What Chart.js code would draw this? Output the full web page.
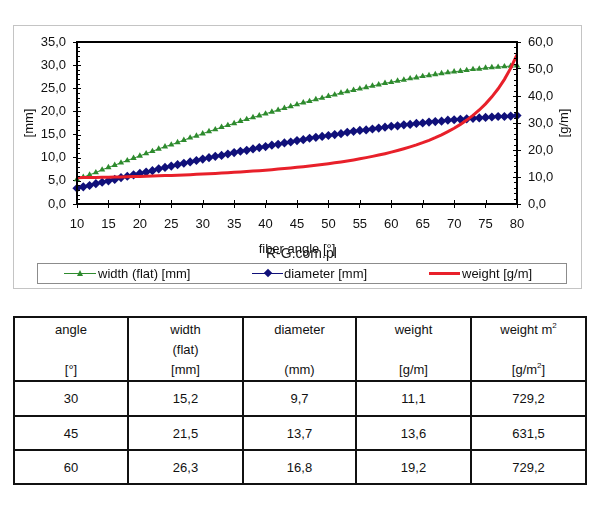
<!DOCTYPE html>
<html>
<head>
<meta charset="utf-8">
<script src="https://cdn.jsdelivr.net/npm/chart.js@4.4.1/dist/chart.umd.min.js"></script>
<style>
    body {
        margin: 0; width: 605px; height: 511px; background: #fff;
        position: relative; overflow: hidden;
        font-family: "Liberation Sans", Arial, sans-serif; color: #111;
    }
    #chartBox { position: absolute; left: 13px; top: 25px; width: 568px; height: 263px; }
    #chartBox canvas { position: absolute; left: 0; top: 0; }
    #frame {
        position: absolute; left: 13px; top: 25px; width: 569px; height: 264px;
        box-sizing: border-box; border: 1px solid #c4c4c4; pointer-events: none;
    }
    #legend {
        position: absolute; left: 37px; top: 263px; width: 530px; height: 21px;
        box-sizing: border-box; border: 1px solid #8c8c8c; font-size: 13px;
    }
    .item { position: absolute; top: 1px; line-height: 17px; white-space: nowrap; }
    .ln { position: absolute; }
    .tri {
        position: absolute; width: 0; height: 0;
        border-left: 3px solid transparent; border-right: 3px solid transparent;
        border-bottom: 6px solid #2e8b2e;
    }
    .dia { position: absolute; width: 6px; height: 6px; background: #10107a; transform: rotate(45deg); }
    #watermark { position: absolute; left: 266px; top: 245px; font-size: 14px; color: #1a1a1a; }
    table {
        position: absolute; left: 13px; top: 316px; width: 572px;
        border-collapse: collapse; table-layout: fixed; font-size: 13px;
    }
    td { border: 2px solid #111; text-align: center; padding: 0; }
    td.h { vertical-align: top; height: 62px; }
    td.h div { line-height: 20px; height: 20px; }
    td.h div:first-child { margin-top: 2px; }
    sup { font-size: 8px; line-height: 0; vertical-align: 6px; }
</style>
</head>
<body>
<div id="chartBox"><canvas id="fiberChart" width="568" height="263"></canvas></div>
<div id="frame"></div>
<div id="legend">
    <div class="ln" style="left:26px;top:9px;width:32px;height:1px;background:#2e8b2e"></div>
    <div class="tri" style="left:39px;top:6px"></div>
    <div class="item" style="left:60px">width (flat) [mm]</div>
    <div class="ln" style="left:214px;top:9px;width:31px;height:1px;background:#10107a"></div>
    <div class="dia" style="left:227px;top:6px"></div>
    <div class="item" style="left:246px">diameter [mm]</div>
    <div class="ln" style="left:391px;top:8px;width:31px;height:3px;background:#e8202a"></div>
    <div class="item" style="left:424px">weight [g/m]</div>
</div>
<div id="watermark">R-G.com.pl</div>
<table id="dataTable">
    <colgroup><col style="width:114px"><col style="width:115px"><col style="width:113px"><col style="width:115px"><col style="width:115px"></colgroup>
    <tr>
        <td class="h"><div>angle</div><div></div><div>[°]</div></td>
        <td class="h"><div>width</div><div>(flat)</div><div>[mm]</div></td>
        <td class="h"><div>diameter</div><div></div><div>(mm)</div></td>
        <td class="h"><div>weight</div><div></div><div>[g/m]</div></td>
        <td class="h"><div>weight m<sup>2</sup></div><div></div><div>[g/m<sup>2</sup>]</div></td>
    </tr>
</table>
<script>
// fiber angle [deg], one point per degree
const angles = [10, 11, 12, 13, 14, 15, 16, 17, 18, 19, 20, 21, 22, 23, 24, 25, 26, 27, 28, 29,
    30, 31, 32, 33, 34, 35, 36, 37, 38, 39, 40, 41, 42, 43, 44, 45, 46, 47, 48, 49,
    50, 51, 52, 53, 54, 55, 56, 57, 58, 59, 60, 61, 62, 63, 64, 65, 66, 67, 68, 69,
    70, 71, 72, 73, 74, 75, 76, 77, 78, 79, 80];

// width (flat) [mm]
const widthFlat = [5.3, 5.8, 6.3, 6.8, 7.4, 7.9, 8.4, 8.9, 9.4, 9.9, 10.4, 10.9, 11.4, 11.9, 12.4, 12.8, 13.3, 13.8, 14.3, 14.7,
    15.2, 15.7, 16.1, 16.6, 17.0, 17.4, 17.9, 18.3, 18.7, 19.1, 19.5, 19.9, 20.3, 20.7, 21.1, 21.5, 21.9, 22.2, 22.6, 22.9,
    23.3, 23.6, 24.0, 24.3, 24.6, 24.9, 25.2, 25.5, 25.8, 26.1, 26.3, 26.6, 26.8, 27.1, 27.3, 27.6, 27.8, 28.0, 28.2, 28.4,
    28.6, 28.7, 28.9, 29.1, 29.2, 29.4, 29.5, 29.6, 29.7, 29.8, 29.9];

// diameter [mm]
const diameter = [3.4, 3.7, 4.0, 4.4, 4.7, 5.0, 5.3, 5.7, 6.0, 6.3, 6.6, 6.9, 7.2, 7.6, 7.9, 8.2, 8.5, 8.8, 9.1, 9.4,
    9.7, 10.0, 10.3, 10.5, 10.8, 11.1, 11.4, 11.6, 11.9, 12.2, 12.4, 12.7, 12.9, 13.2, 13.4, 13.7, 13.9, 14.2, 14.4, 14.6,
    14.8, 15.0, 15.2, 15.5, 15.7, 15.9, 16.0, 16.2, 16.4, 16.6, 16.8, 16.9, 17.1, 17.2, 17.4, 17.5, 17.7, 17.8, 17.9, 18.1,
    18.2, 18.3, 18.4, 18.5, 18.6, 18.7, 18.8, 18.9, 18.9, 19.0, 19.1];

// weight [g/m] (right axis)
const weight = [9.75, 9.78, 9.81, 9.85, 9.89, 9.94, 9.99, 10.04, 10.09, 10.15, 10.22, 10.28, 10.35, 10.43, 10.51, 10.59, 10.68, 10.77, 10.87, 10.98,
    11.09, 11.20, 11.32, 11.45, 11.58, 11.72, 11.87, 12.02, 12.18, 12.35, 12.53, 12.72, 12.92, 13.13, 13.35, 13.58, 13.82, 14.08, 14.35, 14.63,
    14.93, 15.25, 15.59, 15.95, 16.33, 16.74, 17.17, 17.63, 18.12, 18.64, 19.2, 19.80, 20.45, 21.15, 21.90, 22.72, 23.60, 24.57, 25.63, 26.79,
    28.07, 29.49, 31.07, 32.84, 34.83, 37.09, 39.68, 42.68, 46.17, 50.31, 55.28];

// table below the chart
const tableAngle = [30, 45, 60];
const tableWidth = [15.2, 21.5, 26.3];
const tableDiameter = [9.7, 13.7, 16.8];
const tableWeight = [11.1, 13.6, 19.2];
const tableWeightM2 = [729.2, 631.5, 729.2];

const comma = v => v.toFixed(1).replace('.', ',');
const axisFont = { family: '"Liberation Sans", Arial, sans-serif', size: 13 };

// fill table rows
const table = document.getElementById('dataTable');
tableAngle.forEach((a, i) => {
    const tr = document.createElement('tr');
    tr.style.height = i === 0 ? '35px' : '34px';
    [String(a), comma(tableWidth[i]), comma(tableDiameter[i]), comma(tableWeight[i]), comma(tableWeightM2[i])].forEach(t => {
        const td = document.createElement('td');
        td.textContent = t;
        tr.appendChild(td);
    });
    table.appendChild(tr);
});

// plot frame, inner tick marks and the right axis title
const frameAndTicks = {
    id: 'frameAndTicks',
    afterDraw(chart) {
        const { ctx, chartArea: a, scales } = chart;
        ctx.save();
        ctx.strokeStyle = '#000';
        ctx.lineWidth = 2;
        ctx.strokeRect(a.left, a.top, a.right - a.left, a.bottom - a.top);
        ctx.lineWidth = 1;
        ctx.beginPath();
        for (let v = scales.y.min; v <= scales.y.max; v += 1) {
            const y = Math.round(scales.y.getPixelForValue(v)) + 0.5;
            ctx.moveTo(a.left, y);
            ctx.lineTo(a.left + (v % 5 ? 3 : 4), y);
        }
        for (let v = scales.y1.min; v <= scales.y1.max; v += 2) {
            const y = Math.round(scales.y1.getPixelForValue(v)) + 0.5;
            ctx.moveTo(a.right, y);
            ctx.lineTo(a.right - (v % 10 ? 3 : 4), y);
        }
        for (let v = scales.x.min; v <= scales.x.max; v += 5) {
            const x = Math.round(scales.x.getPixelForValue(v)) + 0.5;
            ctx.moveTo(x, a.bottom);
            ctx.lineTo(x, a.bottom - 4);
        }
        ctx.stroke();
        ctx.fillStyle = '#111';
        ctx.font = '13px "Liberation Sans", Arial, sans-serif';
        ctx.textAlign = 'center';
        ctx.textBaseline = 'middle';
        ctx.translate(551, (a.top + a.bottom) / 2);
        ctx.rotate(-Math.PI / 2);
        ctx.fillText('[g/m]', 0, 0);
        ctx.restore();
    }
};

new Chart(document.getElementById('fiberChart'), {
    type: 'line',
    data: {
        datasets: [
            {
                label: 'weight [g/m]',
                data: angles.map((a, i) => ({ x: a, y: weight[i] })),
                yAxisID: 'y1',
                borderColor: '#e8202a',
                borderWidth: 3,
                pointRadius: 0,
                order: 0
            },
            {
                label: 'diameter [mm]',
                data: angles.map((a, i) => ({ x: a, y: diameter[i] })),
                yAxisID: 'y',
                borderColor: '#10107a',
                backgroundColor: '#10107a',
                borderWidth: 1,
                pointStyle: 'rectRot',
                pointRadius: 4.6,
                pointBorderWidth: 0,
                clip: false,
                order: 1
            },
            {
                label: 'width (flat) [mm]',
                data: angles.map((a, i) => ({ x: a, y: widthFlat[i] })),
                yAxisID: 'y',
                borderColor: '#2e8b2e',
                backgroundColor: '#2e8b2e',
                borderWidth: 1,
                pointStyle: 'triangle',
                pointRadius: 3.6,
                pointBorderWidth: 0,
                clip: false,
                order: 2
            }
        ]
    },
    options: {
        responsive: false,
        animation: false,
        layout: { padding: { top: 17, bottom: 31, left: 0, right: 0 } },
        plugins: { legend: { display: false }, tooltip: { enabled: false } },
        scales: {
            x: {
                type: 'linear',
                min: 10,
                max: 80,
                ticks: { stepSize: 5, font: axisFont, color: '#111', padding: 9 },
                grid: { drawOnChartArea: false, color: '#000', tickLength: 4 },
                border: { color: '#000', width: 2 },
                title: { display: true, text: 'fiber angle [°]', font: axisFont, color: '#111', padding: 0 },
                afterFit: s => { s.height = 53; }
            },
            y: {
                position: 'left',
                min: 0,
                max: 35,
                ticks: { stepSize: 5, font: axisFont, color: '#111', padding: 7, callback: v => comma(v) },
                grid: { drawOnChartArea: false, color: '#000', tickLength: 4 },
                border: { color: '#000', width: 2 },
                title: { display: true, text: '[mm]', font: axisFont, color: '#111', padding: { top: 9, bottom: 0 } },
                afterFit: s => { s.width = 64; }
            },
            y1: {
                position: 'right',
                min: 0,
                max: 60,
                ticks: { stepSize: 10, font: axisFont, color: '#111', padding: 7, callback: v => comma(v) },
                grid: { drawOnChartArea: false, color: '#000', tickLength: 4 },
                border: { color: '#000', width: 2 },
                afterFit: s => { s.width = 64; }
            }
        }
    },
    plugins: [frameAndTicks]
});
</script>
</body>
</html>
